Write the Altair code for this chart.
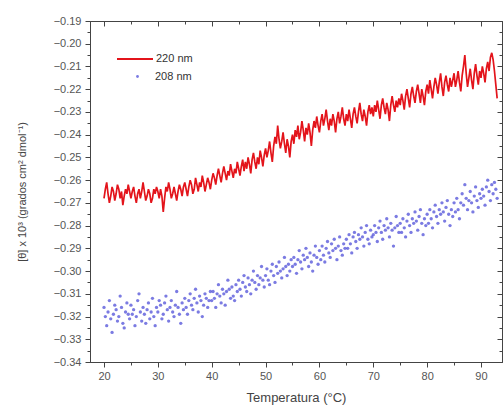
import altair as alt
import numpy as np
import pandas as pd

# Ellipticity at 220 nm, sampled every 0.25 °C from 20 to 93 °C
temp_220_start, temp_220_step = 20.0, 0.25
theta_220 = [
    -0.268, -0.264, -0.261, -0.266, -0.270, -0.267, -0.263, -0.265, -0.269, -0.266,
    -0.262, -0.264, -0.268, -0.265, -0.271, -0.267, -0.264, -0.266, -0.262, -0.265,
    -0.268, -0.265, -0.263, -0.267, -0.270, -0.266, -0.264, -0.268, -0.265, -0.261,
    -0.265, -0.269, -0.267, -0.264, -0.266, -0.270, -0.268, -0.264, -0.266, -0.263,
    -0.265, -0.268, -0.264, -0.267, -0.274, -0.268, -0.263, -0.265, -0.261, -0.264,
    -0.268, -0.266, -0.263, -0.266, -0.269, -0.265, -0.262, -0.264, -0.267, -0.263,
    -0.261, -0.264, -0.267, -0.263, -0.260, -0.262, -0.266, -0.264, -0.259, -0.262,
    -0.265, -0.261, -0.263, -0.258, -0.261, -0.265, -0.262, -0.259, -0.261, -0.264,
    -0.260, -0.257, -0.259, -0.262, -0.258, -0.255, -0.258, -0.261, -0.257, -0.254,
    -0.257, -0.260, -0.256, -0.258, -0.253, -0.256, -0.259, -0.255, -0.257, -0.252,
    -0.255, -0.258, -0.254, -0.251, -0.256, -0.252, -0.255, -0.250, -0.253, -0.257,
    -0.251, -0.248, -0.252, -0.255, -0.250, -0.253, -0.247, -0.250, -0.254, -0.249,
    -0.246, -0.250, -0.247, -0.243, -0.248, -0.252, -0.245, -0.241, -0.244, -0.236,
    -0.242, -0.246, -0.243, -0.239, -0.244, -0.248, -0.242, -0.245, -0.250, -0.243,
    -0.240, -0.244, -0.238, -0.241, -0.236, -0.242, -0.239, -0.234, -0.238, -0.243,
    -0.237, -0.240, -0.235, -0.239, -0.245, -0.238, -0.234, -0.237, -0.232, -0.236,
    -0.239, -0.234, -0.231, -0.236, -0.233, -0.229, -0.234, -0.238, -0.233, -0.236,
    -0.231, -0.234, -0.239, -0.233, -0.230, -0.235, -0.232, -0.228, -0.233, -0.236,
    -0.231, -0.234, -0.229, -0.233, -0.237, -0.231, -0.228, -0.232, -0.235, -0.230,
    -0.226, -0.231, -0.234, -0.229, -0.232, -0.236, -0.230, -0.227, -0.231, -0.228,
    -0.232, -0.227, -0.230, -0.225, -0.229, -0.233, -0.227, -0.224, -0.228, -0.231,
    -0.226, -0.229, -0.234, -0.227, -0.223, -0.227, -0.230, -0.225, -0.228, -0.224,
    -0.227, -0.222, -0.225, -0.229, -0.223, -0.220, -0.224, -0.228, -0.222, -0.219,
    -0.223, -0.226, -0.221, -0.218, -0.222, -0.226, -0.220, -0.223, -0.227, -0.221,
    -0.218, -0.222, -0.216, -0.220, -0.224, -0.219, -0.215, -0.218, -0.222, -0.217,
    -0.213, -0.219, -0.223, -0.217, -0.214, -0.218, -0.221, -0.215, -0.219, -0.216,
    -0.213, -0.219, -0.216, -0.212, -0.217, -0.221, -0.214, -0.210, -0.205, -0.213,
    -0.219, -0.215, -0.211, -0.216, -0.220, -0.213, -0.209, -0.214, -0.218, -0.212,
    -0.215, -0.210, -0.213, -0.217, -0.211, -0.208, -0.212, -0.206, -0.204, -0.207,
    -0.212, -0.218, -0.224,
]

# Ellipticity at 208 nm, sampled every 0.25 °C from 20 to 93 °C
temp_208_start, temp_208_step = 20.0, 0.25
theta_208 = [
    -0.316, -0.320, -0.324, -0.318, -0.313, -0.321, -0.327, -0.319, -0.315, -0.317,
    -0.322, -0.320, -0.311, -0.316, -0.323, -0.325, -0.318, -0.314, -0.319, -0.321,
    -0.315, -0.319, -0.317, -0.324, -0.320, -0.313, -0.310, -0.318, -0.322, -0.316,
    -0.319, -0.323, -0.317, -0.314, -0.321, -0.318, -0.312, -0.320, -0.324, -0.316,
    -0.318, -0.313, -0.315, -0.321, -0.319, -0.314, -0.311, -0.317, -0.322, -0.316,
    -0.313, -0.318, -0.320, -0.315, -0.309, -0.316, -0.319, -0.323, -0.314, -0.317,
    -0.312, -0.316, -0.319, -0.313, -0.310, -0.315, -0.317, -0.312, -0.308, -0.314,
    -0.318, -0.311, -0.313, -0.320, -0.315, -0.310, -0.312, -0.316, -0.313, -0.309,
    -0.313, -0.309, -0.312, -0.316, -0.310, -0.306, -0.311, -0.314, -0.308, -0.310,
    -0.315, -0.309, -0.304, -0.308, -0.312, -0.307, -0.311, -0.313, -0.306, -0.309,
    -0.304, -0.308, -0.311, -0.305, -0.302, -0.307, -0.309, -0.303, -0.306, -0.310,
    -0.304, -0.300, -0.305, -0.308, -0.302, -0.306, -0.303, -0.298, -0.304, -0.307,
    -0.302, -0.299, -0.304, -0.306, -0.300, -0.297, -0.302, -0.305, -0.298, -0.301,
    -0.296, -0.300, -0.303, -0.299, -0.294, -0.298, -0.302, -0.297, -0.300, -0.295,
    -0.298, -0.294, -0.297, -0.301, -0.295, -0.291, -0.296, -0.299, -0.293, -0.295,
    -0.290, -0.294, -0.298, -0.292, -0.296, -0.300, -0.293, -0.289, -0.294, -0.297,
    -0.291, -0.295, -0.289, -0.293, -0.296, -0.290, -0.287, -0.292, -0.294, -0.288,
    -0.291, -0.286, -0.290, -0.295, -0.289, -0.285, -0.291, -0.293, -0.288, -0.290,
    -0.286, -0.290, -0.284, -0.288, -0.292, -0.285, -0.283, -0.287, -0.290, -0.284,
    -0.286, -0.281, -0.285, -0.289, -0.283, -0.280, -0.286, -0.288, -0.282, -0.285,
    -0.284, -0.280, -0.283, -0.287, -0.281, -0.278, -0.283, -0.286, -0.280, -0.282,
    -0.277, -0.281, -0.285, -0.279, -0.282, -0.289, -0.281, -0.276, -0.280, -0.283,
    -0.279, -0.283, -0.277, -0.281, -0.285, -0.278, -0.275, -0.280, -0.283, -0.277,
    -0.279, -0.274, -0.278, -0.282, -0.276, -0.273, -0.279, -0.284, -0.277, -0.280,
    -0.275, -0.279, -0.273, -0.277, -0.281, -0.274, -0.271, -0.276, -0.279, -0.273,
    -0.275, -0.270, -0.274, -0.278, -0.272, -0.269, -0.275, -0.280, -0.273, -0.276,
    -0.270, -0.274, -0.268, -0.273, -0.277, -0.270, -0.266, -0.271, -0.262, -0.268,
    -0.273, -0.269, -0.265, -0.270, -0.274, -0.267, -0.263, -0.269, -0.272, -0.266,
    -0.268, -0.264, -0.267, -0.271, -0.263, -0.260, -0.265, -0.269, -0.262, -0.266,
    -0.261, -0.264, -0.268,
]

series_labels = ["220 nm", "208 nm"]
series_colors = ["#e3141b", "#4f4fd8"]

x_ticks = list(range(20, 95, 5))
y_ticks = [round(-0.34 + 0.005 * i, 3) for i in range(31)]

df220 = pd.DataFrame({
    "T": temp_220_start + temp_220_step * np.arange(len(theta_220)),
    "theta": theta_220,
    "serie": series_labels[0],
})
df208 = pd.DataFrame({
    "T": temp_208_start + temp_208_step * np.arange(len(theta_208)),
    "theta": theta_208,
    "serie": series_labels[1],
})

W, H = 412, 341
FONT = "Liberation Sans"
INK = "#444444"

xs = alt.Scale(domain=[17.4, 93.9], nice=False, zero=False)
ys = alt.Scale(domain=[-0.34, -0.19], nice=False, zero=False)

X_MINOR_TEST = "datum.value % 10 !== 0"
Y_MINOR_TEST = "abs(round(datum.value * 1000)) % 10 !== 0"
x_minor = {"condition": {"test": X_MINOR_TEST, "value": 3}, "value": 5}
y_minor = {"condition": {"test": Y_MINOR_TEST, "value": 3}, "value": 5}

x_axis = alt.Axis(
    values=x_ticks, labelExpr=f"({X_MINOR_TEST}) ? '' : datum.label",
    tickSize=x_minor, title="Temperatura (°C)", titleFontSize=13, titlePadding=10,
    labelFontSize=11, labelPadding=3, grid=False,
)
y_axis = alt.Axis(
    values=y_ticks, format=".2f",
    labelExpr=f"({Y_MINOR_TEST}) ? '' : datum.label",
    tickSize=y_minor, title="[θ] x 10³ (grados cm² dmol⁻¹)", titleFontSize=11,
    titlePadding=26, labelFontSize=11, labelPadding=4, grid=False,
)

line220 = alt.Chart(df220).mark_line(strokeWidth=1.7, strokeJoin="miter").encode(
    x=alt.X("T:Q", scale=xs, axis=x_axis),
    y=alt.Y("theta:Q", scale=ys, axis=y_axis),
    color=alt.Color(
        "serie:N",
        scale=alt.Scale(domain=[series_labels[0]], range=[series_colors[0]]),
        legend=alt.Legend(
            title=None, orient="none", legendX=26, legendY=19,
            symbolType="stroke", symbolSize=1296, symbolStrokeWidth=2,
            labelFontSize=11, labelOffset=2, labelFont=FONT, labelColor="#333333",
            padding=0,
        ),
    ),
)

pts208 = alt.Chart(df208).mark_point(filled=True, size=11, opacity=0.75).encode(
    x=alt.X("T:Q", scale=xs, axis=None),
    y=alt.Y("theta:Q", scale=ys, axis=None),
    color=alt.Color(
        "serie:N",
        scale=alt.Scale(domain=[series_labels[1]], range=[series_colors[1]]),
        legend=alt.Legend(
            title=None, orient="none", legendX=42, legendY=50,
            symbolType="circle", symbolSize=8, symbolStrokeWidth=0,
            labelFontSize=11, labelOffset=12, labelFont=FONT, labelColor="#333333",
            padding=0,
        ),
    ),
)

# top and right frame axes with inward-pointing ticks
frame = alt.Chart(df220).mark_point(opacity=0).encode(
    x=alt.X("T:Q", scale=xs, axis=alt.Axis(
        orient="bottom", offset=-H, values=x_ticks, labels=False, title=None,
        tickSize=x_minor, grid=False)),
    y=alt.Y("theta:Q", scale=ys, axis=alt.Axis(
        orient="left", offset=-W, values=y_ticks, labels=False, title=None,
        tickSize=y_minor, grid=False)),
)

chart = alt.layer(line220, pts208, frame).resolve_scale(
    color="independent"
).resolve_axis(
    x="independent", y="independent"
).properties(
    width=W, height=H,
    autosize=alt.AutoSizeParams(type="none"),
    padding={"left": 90, "top": 21, "right": 2, "bottom": 47},
    background="white",
).configure_view(
    stroke=INK, strokeWidth=1
).configure_axis(
    labelFont=FONT, titleFont=FONT, labelColor="#555555", titleColor="#444444",
    titleFontWeight="normal", domainColor=INK, tickColor=INK, domainWidth=1,
)

chart.save("out.html", embed_options={"renderer": "svg", "actions": False})
